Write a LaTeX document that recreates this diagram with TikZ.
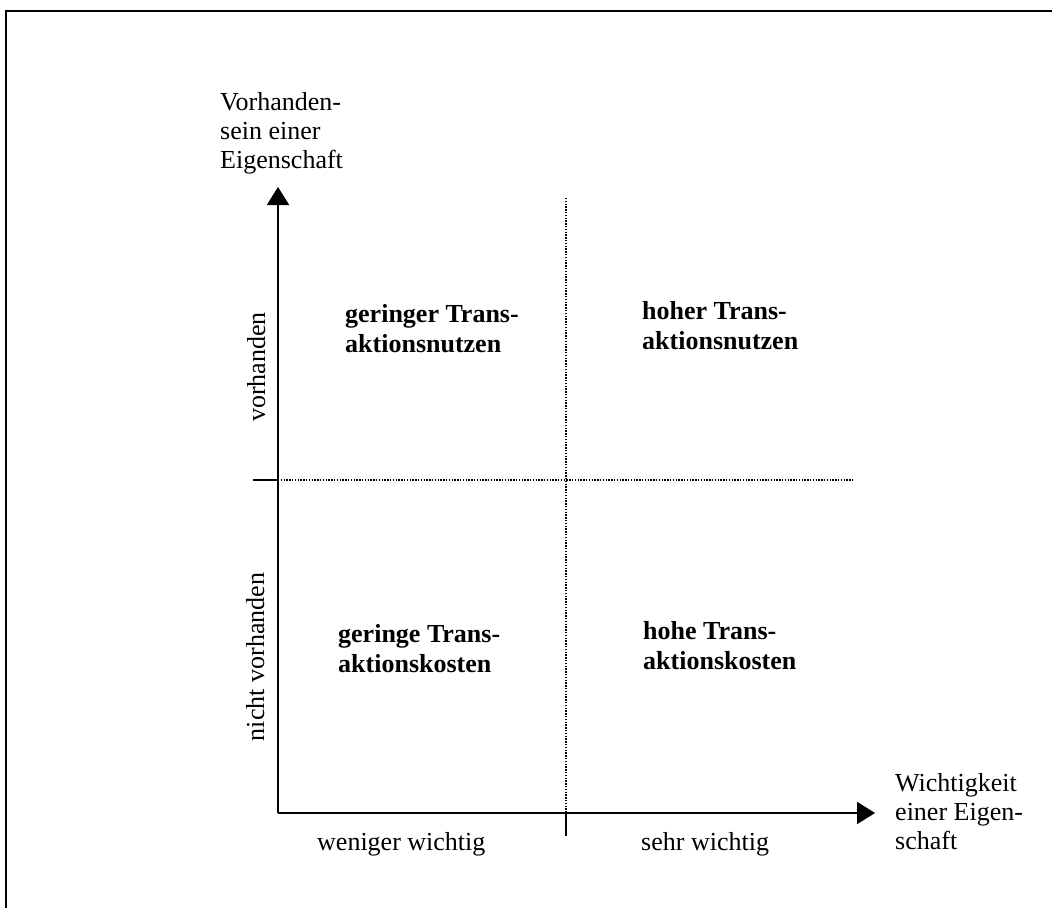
\documentclass[tikz,border=0pt]{standalone}
\usepackage{fontspec}
\setmainfont{Liberation Serif}
\usetikzlibrary{arrows.meta}
\begin{document}
\begin{tikzpicture}[x=1pt,y=-1pt,
  axis/.style={line width=2pt},
  axisarrow/.style={line width=2pt,-{Triangle[length=18pt,width=22pt]}},
  dotline/.style={line width=1.4pt,dash pattern=on 1.4pt off 1.4pt},
  frameline/.style={line width=2pt},
  lbl/.style={inner sep=0pt,font=\fontsize{26}{29}\selectfont,align=left},
  quad/.style={inner sep=0pt,font=\fontsize{26}{30}\selectfont\bfseries,align=left,anchor=north west}]
\useasboundingbox (0,0) rectangle (1052,908);
% frame
\coordinate (F1) at (6,908);
\coordinate (F2) at (6,11);
\coordinate (F3) at (1052,11);
\draw[frameline] (F1) -- (F2) -- (F3);
% axes
\coordinate (O) at (278,813);
\coordinate (Ytip) at (278,187);
\coordinate (Xtip) at (875,813);
\draw[axisarrow] (O) -- (Ytip);
\draw[axisarrow] (O) -- (Xtip);
% dividers
\coordinate (Htl) at (253,480);
\coordinate (Hl) at (278,480);
\coordinate (Hr) at (853,480);
\coordinate (Vt) at (566,198);
\coordinate (Vb) at (566,813);
\coordinate (Vtick) at (566,836);
\draw[axis] (Htl) -- (Hl);
\draw[dotline] (Hl) -- (Hr);
\draw[dotline] (Vt) -- (Vb);
\draw[axis] (Vb) -- (Vtick);
% axis labels
\node[lbl,anchor=north west] (ylab) at (220,92) {Vorhanden-\\sein einer\\Eigenschaft};
\node[lbl,anchor=north west] (xlab) at (895,773) {Wichtigkeit\\einer Eigen-\\schaft};
\node[lbl,anchor=base west] (xlow) at (317,850) {weniger wichtig};
\node[lbl,anchor=base west] (xhigh) at (641,850) {sehr wichtig};
\node[lbl,anchor=base,rotate=90] (yhigh) at (265,367) {vorhanden};
\node[lbl,anchor=base,rotate=90] (ylow) at (264,657) {nicht vorhanden};
% quadrants
\node[quad] (q1) at (345,304) {geringer Trans-\\aktionsnutzen};
\node[quad] (q2) at (642,301) {hoher Trans-\\aktionsnutzen};
\node[quad] (q3) at (338,624) {geringe Trans-\\aktionskosten};
\node[quad] (q4) at (643,621) {hohe Trans-\\aktionskosten};
\end{tikzpicture}
\end{document}
